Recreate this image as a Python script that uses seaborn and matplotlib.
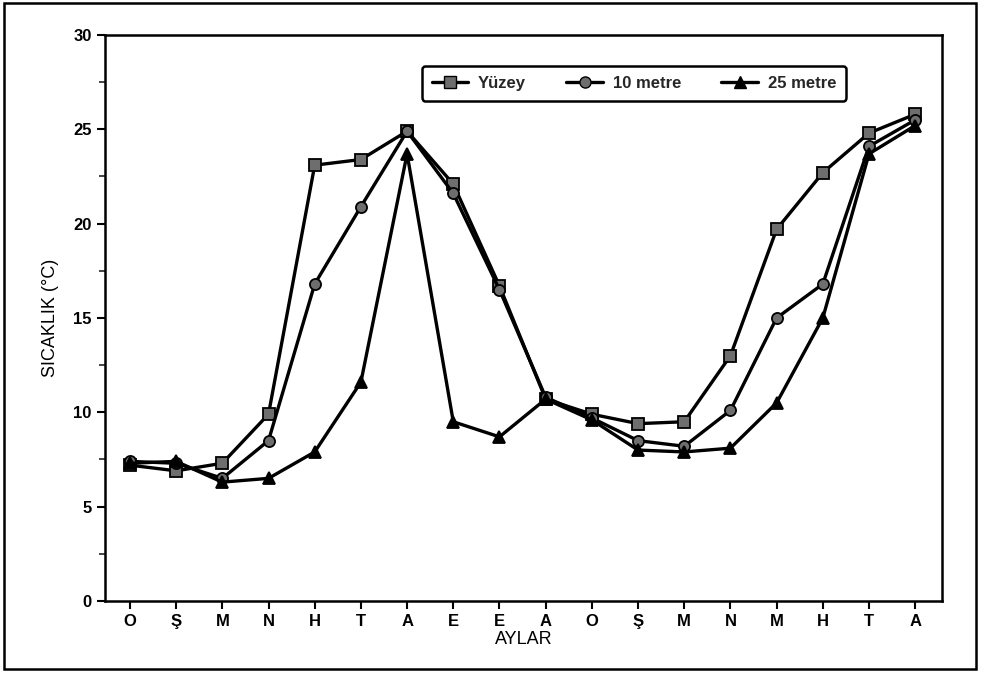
import pandas as pd
import numpy as np
import matplotlib
matplotlib.use("Agg")
import matplotlib.pyplot as plt
import seaborn as sns
from matplotlib.patches import Rectangle
from matplotlib.lines import Line2D

# data
months = ['O', 'Ş', 'M', 'N', 'H', 'T', 'A', 'E', 'E', 'A',
          'O', 'Ş', 'M', 'N', 'M', 'H', 'T', 'A']
yuzey = [7.2, 6.9, 7.3, 9.9, 23.1, 23.4, 24.9, 22.1, 16.7, 10.7,
         9.9, 9.4, 9.5, 13.0, 19.7, 22.7, 24.8, 25.8]
metre10 = [7.4, 7.3, 6.5, 8.5, 16.8, 20.9, 24.9, 21.6, 16.5, 10.8,
           9.7, 8.5, 8.2, 10.1, 15.0, 16.8, 24.1, 25.5]
metre25 = [7.3, 7.4, 6.3, 6.5, 7.9, 11.6, 23.7, 9.5, 8.7, 10.7,
           9.6, 8.0, 7.9, 8.1, 10.5, 15.0, 23.7, 25.2]
series_names = ['Yüzey', '10 metre', '25 metre']

idx = np.arange(len(months))
df = pd.concat([
    pd.DataFrame({'x': idx, 'val': yuzey, 'seri': series_names[0]}),
    pd.DataFrame({'x': idx, 'val': metre10, 'seri': series_names[1]}),
    pd.DataFrame({'x': idx, 'val': metre25, 'seri': series_names[2]}),
])

sns.set_style("ticks")
plt.rcParams['font.family'] = ['Liberation Sans', 'DejaVu Sans']
plt.rcParams['axes.labelcolor'] = 'black'

fig = plt.figure(figsize=(9.84, 6.73), dpi=100)
ax = fig.add_axes([0.1067, 0.107, 0.8506, 0.841])

sns.lineplot(data=df, x='x', y='val', hue='seri', style='seri',
             palette=['black', 'black', 'black'],
             markers={'Yüzey': 's', '10 metre': 'o', '25 metre': '^'},
             dashes=False, linewidth=2.4, markersize=8,
             markeredgecolor='black', ax=ax, legend=False)

# marker faces: hatched look in the print -> gray fill
lines = ax.get_lines()
lines[0].set_markerfacecolor('#6e6e6e')
lines[1].set_markerfacecolor('#6e6e6e')
lines[2].set_markerfacecolor('black')
for ln in lines:
    ln.set_markeredgewidth(1.3)

ax.set_xlim(-0.54, 17.58)
ax.set_ylim(0, 30)
ax.set_yticks([0, 5, 10, 15, 20, 25, 30])
ax.set_yticks(np.arange(2.5, 30, 5), minor=True)
ax.set_xticks(idx)
ax.set_xticklabels(months)
for spine in ax.spines.values():
    spine.set_linewidth(1.8)
    spine.set_color('black')
ax.tick_params(axis='both', which='major', direction='out', length=6, width=1.5,
               labelsize=12, colors='black')
ax.tick_params(axis='y', which='minor', direction='out', length=4, width=1.2)
for lab in ax.get_xticklabels() + ax.get_yticklabels():
    lab.set_fontweight('bold')

ax.set_xlabel('AYLAR', fontsize=13, labelpad=1)
ax.set_ylabel('SICAKLIK (°C)', fontsize=13, labelpad=10)

handles = [
    Line2D([], [], color='black', lw=2.4, marker='s', ms=8, mfc='#6e6e6e', mec='black'),
    Line2D([], [], color='black', lw=2.4, marker='o', ms=8, mfc='#6e6e6e', mec='black'),
    Line2D([], [], color='black', lw=2.4, marker='^', ms=8, mfc='black', mec='black'),
]
leg = ax.legend(handles, series_names, loc='center', bbox_to_anchor=(0.632, 0.915),
                ncol=3, frameon=True, fancybox=True, edgecolor='black',
                prop={'weight': 'bold', 'size': 12}, handlelength=2.2,
                columnspacing=2.4, handletextpad=0.6, borderpad=0.6)
leg.get_frame().set_linewidth(1.8)
leg.get_frame().set_alpha(1)

# outer frame around the whole figure
fig.patches.append(Rectangle((0.004, 0.006), 0.988, 0.989, transform=fig.transFigure,
                             fill=False, edgecolor='black', linewidth=1.8))

fig.savefig('out.png', dpi=100)
